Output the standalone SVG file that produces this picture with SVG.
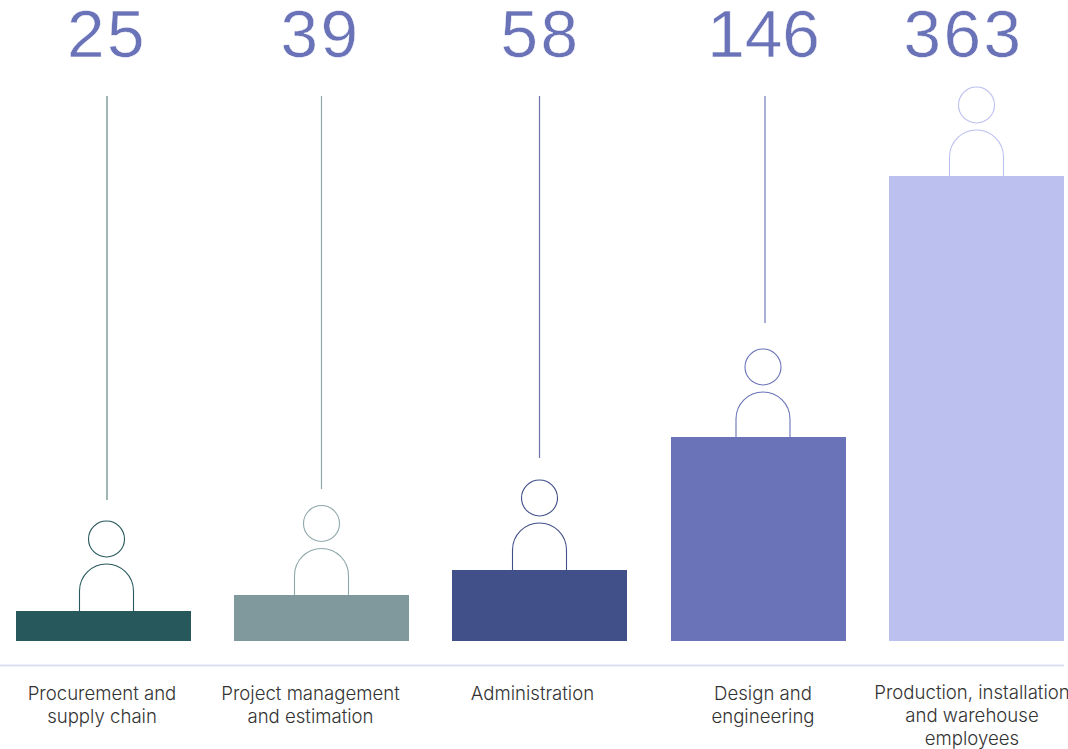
<svg xmlns="http://www.w3.org/2000/svg" width="1068" height="749" viewBox="0 0 1068 749">
<style>
.num{font-family:"Liberation Sans",Arial,sans-serif;font-size:67.5px;fill:#6a73b8;text-anchor:middle;stroke:#fff;stroke-width:.5px}
.wide{letter-spacing:2.5px}
.lab{font-family:Inter,"Liberation Sans",sans-serif;font-size:18.6px;font-weight:300;fill:#333;text-anchor:middle}
.o{fill:none;stroke-width:1.1}
.c{fill:none;stroke-width:1.2}
</style>
<defs>
<g id="person"><circle cx="0" cy="0" r="18"/><path d="M-27 72V52A27 27 0 0 1 27 52V72"/></g>
</defs>
<rect width="1068" height="749" fill="#fff"/>
<g id="connectors">
<line class="c" x1="107" y1="96" x2="107" y2="500" stroke="#5f8583"/>
<line class="c" x1="321.500" y1="96" x2="321.500" y2="489" stroke="#8fa8aa"/>
<line class="c" x1="539.500" y1="96" x2="539.500" y2="458" stroke="#6a73b0"/>
<line class="c" x1="765" y1="96" x2="765" y2="323" stroke="#7079bd"/>
<line x1="0" y1="665.500" x2="1064" y2="665.500" stroke="#dddef2" stroke-width="2"/>
</g>
<g id="node-procurement">
<text class="num wide" x="107" y="56.500">25</text>
<use href="#person" x="106.500" y="539" class="o" stroke="#27585c"/>
<rect x="16" y="611" width="175" height="30" fill="#27585c"/>
<text class="lab" x="102" y="700">Procurement and</text><text class="lab" x="102" y="723">supply chain</text>
</g>
<g id="node-project">
<text class="num wide" x="320.500" y="56.500">39</text>
<use href="#person" x="321.500" y="523.500" class="o" stroke="#8fa8aa"/>
<rect x="234" y="595" width="175" height="46" fill="#80999d"/>
<text class="lab" x="310.500" y="700">Project management</text><text class="lab" x="310.500" y="723">and estimation</text>
</g>
<g id="node-admin">
<text class="num wide" x="540.500" y="56.500">58</text>
<use href="#person" x="539.500" y="498" class="o" stroke="#42508a"/>
<rect x="452" y="570" width="175" height="71" fill="#42508a"/>
<text class="lab" x="532.500" y="700">Administration</text>
</g>
<g id="node-design">
<text class="num" x="763.500" y="56.500">146</text>
<use href="#person" x="763" y="367" class="o" stroke="#6a73b8"/>
<rect x="671" y="437" width="175" height="204" fill="#6a73b8"/>
<text class="lab" x="763" y="700">Design and</text><text class="lab" x="763" y="723">engineering</text>
</g>
<g id="node-production">
<text class="num wide" x="963.500" y="56.500">363</text>
<use href="#person" x="976.500" y="105" class="o" stroke="#bcc0ee"/>
<rect x="889" y="176" width="175" height="465" fill="#bcc0ee"/>
<text class="lab" x="972" y="699">Production, installation</text><text class="lab" x="972" y="722">and warehouse</text><text class="lab" x="972" y="745">employees</text>
</g>
</svg>
